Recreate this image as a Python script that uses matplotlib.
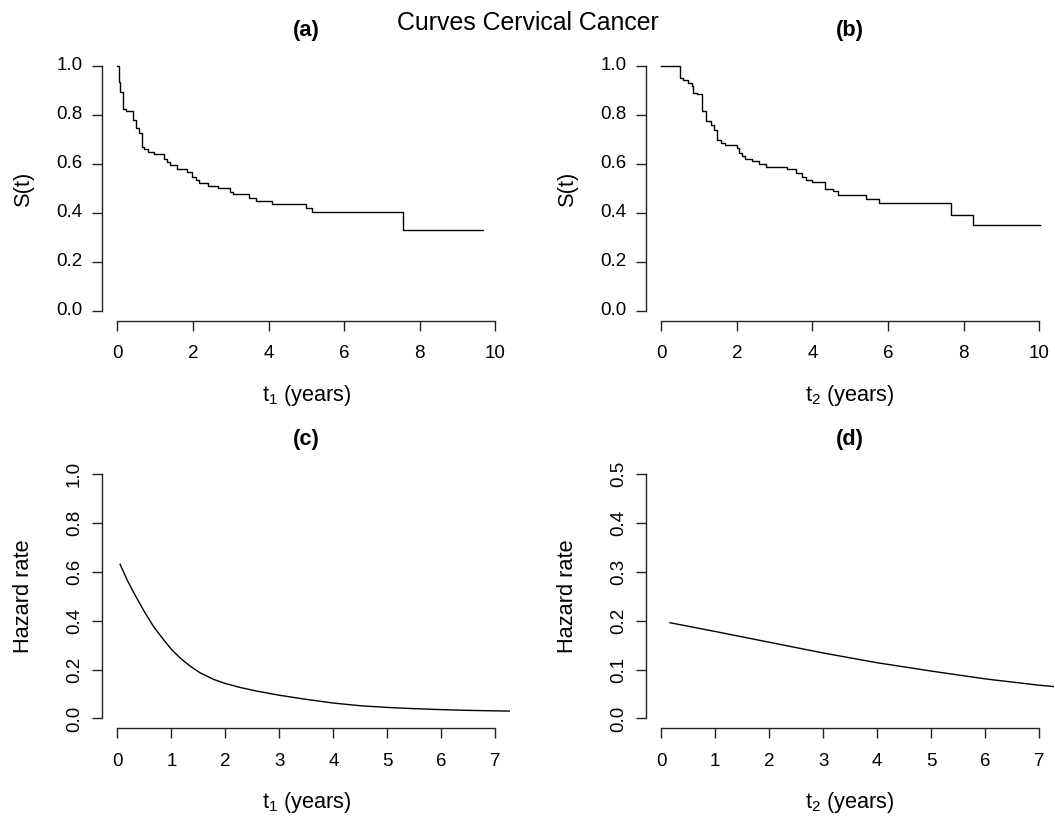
import matplotlib
matplotlib.use("Agg")
import matplotlib.pyplot as plt

plt.rcParams['font.family'] = ['Liberation Sans', 'DejaVu Sans']
plt.rcParams['mathtext.fontset'] = 'custom'
plt.rcParams['mathtext.rm'] = 'Liberation Sans'
plt.rcParams['mathtext.it'] = 'Liberation Sans:italic'

# ---- data ----
km1_t = [0, 0.035, 0.07, 0.15, 0.23, 0.41, 0.48, 0.56, 0.64, 0.71,
         0.80, 0.98, 1.23, 1.31, 1.40, 1.58, 1.83, 1.98, 2.08, 2.17,
         2.41, 2.67, 2.98, 3.07, 3.48, 3.66, 4.08, 4.99, 5.16, 7.57, 9.68]
km1_s = [1.0, 0.932, 0.894, 0.822, 0.813, 0.776, 0.747, 0.725, 0.668, 0.659,
         0.649, 0.638, 0.618, 0.607, 0.596, 0.577, 0.566, 0.544, 0.533, 0.522,
         0.510, 0.499, 0.486, 0.475, 0.461, 0.449, 0.435, 0.420, 0.404, 0.331, 0.331]

km2_t = [0, 0.50, 0.58, 0.715, 0.80, 0.83, 0.95, 1.065, 1.08, 1.18,
         1.31, 1.40, 1.48, 1.57, 1.69, 2.0, 2.05, 2.14, 2.22, 2.41,
         2.59, 2.76, 3.32, 3.56, 3.73, 3.84, 3.99, 4.33, 4.55, 4.67,
         5.43, 5.76, 7.67, 8.26, 10.03]
km2_s = [1.0, 0.949, 0.942, 0.928, 0.917, 0.890, 0.883, 0.874, 0.816, 0.774,
         0.758, 0.738, 0.697, 0.686, 0.675, 0.663, 0.642, 0.631, 0.620, 0.611,
         0.600, 0.588, 0.577, 0.563, 0.547, 0.535, 0.524, 0.498, 0.487, 0.471,
         0.455, 0.438, 0.392, 0.349, 0.349]

hz1_t = [0.05, 0.18, 0.31, 0.49, 0.67, 0.86, 1.0, 1.17, 1.35, 1.53, 1.78, 2.0,
         2.27, 2.58, 3.0, 3.5, 4.0, 4.5, 5.0, 5.5, 6.0, 6.5, 7.0, 7.3]
hz1_h = [0.631, 0.567, 0.512, 0.441, 0.376, 0.321, 0.283, 0.246, 0.214, 0.187, 0.160, 0.143,
         0.127, 0.112, 0.095, 0.078, 0.063, 0.052, 0.045, 0.040, 0.036, 0.033, 0.031, 0.030]

hz2_t = [0.16, 1.0, 2.0, 3.0, 4.0, 5.0, 6.0, 7.0, 7.3]
hz2_h = [0.196, 0.178, 0.156, 0.134, 0.114, 0.097, 0.081, 0.068, 0.065]

W, H = 1055, 816
fig = plt.figure(figsize=(W / 100, H / 100), dpi=100)

def px_axes(x0, x1, ytop, ybot):
    return fig.add_axes([x0 / W, 1 - ybot / H, (x1 - x0) / W, (ybot - ytop) / H])

FS_TICK = 13.5
FS_LAB = 15.7

def style(ax, xmax, ymax, xticks, yticks, yrot):
    xr = 0.04 * xmax
    yr = 0.04 * ymax
    ax.set_xlim(-xr, xmax + xr)
    ax.set_ylim(-yr, ymax + yr)
    for s in ['top', 'right']:
        ax.spines[s].set_visible(False)
    ax.spines['left'].set_bounds(yticks[0], yticks[-1])
    ax.spines['bottom'].set_bounds(xticks[0], xticks[-1])
    for s in ['left', 'bottom']:
        ax.spines[s].set_linewidth(1.0)
        ax.spines[s].set_color('#222222')
    ax.set_xticks(xticks)
    ax.set_yticks(yticks)
    ax.set_xticklabels([str(v) for v in xticks])
    ax.set_yticklabels(['%.1f' % v for v in yticks], rotation=yrot,
                       va='center')
    ax.tick_params(axis='both', direction='out', length=7, width=1.0,
                   labelsize=FS_TICK, color='#222222')
    ax.tick_params(axis='x', pad=10.5)
    ax.tick_params(axis='y', pad=7)

def labels(ax, title, xlab, ylab, hpx):
    ax.text(0.5, 1 + 25 / hpx, title, transform=ax.transAxes, ha='center',
            va='center', fontsize=FS_LAB, fontweight='bold')
    ax.set_xlabel(xlab, fontsize=FS_LAB)
    ax.xaxis.set_label_coords(0.5, -62 / hpx)
    ax.set_ylabel(ylab, fontsize=FS_LAB)
    ax.yaxis.set_label_coords(-68 / 408.1, 0.5)

# (a)
ax = px_axes(102.3, 510.4, 55.7, 320.7)
ax.step(km1_t, km1_s, where='post', color='black', lw=1.0)
style(ax, 10, 1.0, [0, 2, 4, 6, 8, 10], [0.0, 0.2, 0.4, 0.6, 0.8, 1.0], 0)
labels(ax, '(a)', r'$\mathregular{t_1}$ (years)', 'S(t)', 265)

# (b)
ax = px_axes(646.2, 1054.3, 55.7, 320.7)
ax.step(km2_t, km2_s, where='post', color='black', lw=1.0)
style(ax, 10, 1.0, [0, 2, 4, 6, 8, 10], [0.0, 0.2, 0.4, 0.6, 0.8, 1.0], 0)
labels(ax, '(b)', r'$\mathregular{t_2}$ (years)', 'S(t)', 265)

# (c)
ax = px_axes(102.3, 510.4, 464.5, 728.2)
ax.plot(hz1_t, hz1_h, color='black', lw=1.0)
style(ax, 7, 1.0, [0, 1, 2, 3, 4, 5, 6, 7], [0.0, 0.2, 0.4, 0.6, 0.8, 1.0], 90)
labels(ax, '(c)', r'$\mathregular{t_1}$ (years)', 'Hazard rate', 263.7)

# (d)
ax = px_axes(646.2, 1054.3, 464.5, 728.2)
ax.plot(hz2_t, hz2_h, color='black', lw=1.0)
style(ax, 7, 0.5, [0, 1, 2, 3, 4, 5, 6, 7], [0.0, 0.1, 0.2, 0.3, 0.4, 0.5], 90)
labels(ax, '(d)', r'$\mathregular{t_2}$ (years)', 'Hazard rate', 263.7)

fig.text(0.5, 1 - 23 / H, 'Curves Cervical Cancer', ha='center', va='center',
         fontsize=17.9)

fig.savefig('out.png', dpi=100)
